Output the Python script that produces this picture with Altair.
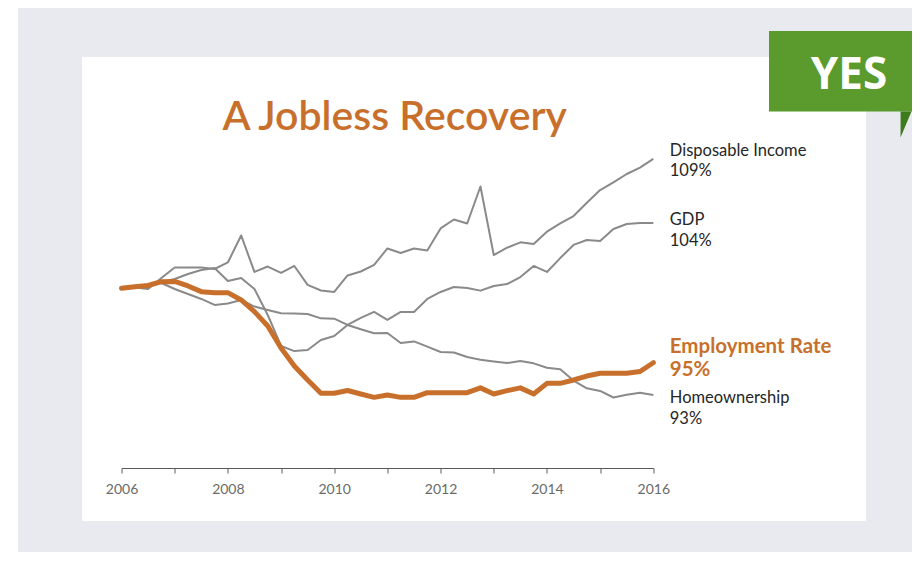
import altair as alt
import pandas as pd

# ---------------- data (index, 2006 Q1 = 100%) ----------------
quarters = [2006 + q / 4 for q in range(41)]

disposable_income = [100.00, 100.03, 99.93, 100.68, 101.40, 101.40, 101.40, 101.30, 101.75, 103.60,
                     101.10, 101.47, 101.03, 101.51, 100.21, 99.83, 99.73, 100.86, 101.13, 101.58,
                     102.71, 102.40, 102.71, 102.57, 104.08, 104.69, 104.42, 106.95, 102.26, 102.76,
                     103.13, 103.01, 103.86, 104.43, 104.93, 105.84, 106.71, 107.24, 107.81, 108.24, 108.84]

gdp = [100.00, 100.07, 100.21, 100.41, 100.62, 100.96, 101.23, 101.37, 100.48, 100.68,
       99.93, 98.15, 96.03, 95.68, 95.75, 96.44, 96.71, 97.47, 97.95, 98.36,
       97.81, 98.36, 98.36, 99.25, 99.73, 100.07, 100.00, 99.82, 100.14, 100.27,
       100.75, 101.51, 101.10, 102.05, 102.95, 103.29, 103.22, 104.04, 104.38, 104.45, 104.45]

employment_rate = [99.98, 100.09, 100.17, 100.43, 100.45, 100.14, 99.75, 99.68, 99.68, 99.18,
                   98.38, 97.40, 95.89, 94.66, 93.70, 92.79, 92.79, 92.98, 92.74, 92.51,
                   92.67, 92.51, 92.51, 92.83, 92.83, 92.83, 92.83, 93.16, 92.74, 92.97,
                   93.16, 92.74, 93.47, 93.47, 93.70, 93.97, 94.16, 94.16, 94.16, 94.28, 94.88]

homeownership = [100.00, 100.07, 100.14, 100.34, 99.93, 99.59, 99.25, 98.84, 98.94, 99.18,
                 98.73, 98.49, 98.27, 98.25, 98.22, 97.92, 97.90, 97.47, 97.17, 96.90,
                 96.92, 96.23, 96.34, 95.98, 95.62, 95.58, 95.27, 95.09, 94.97, 94.86,
                 95.00, 94.84, 94.54, 94.43, 93.66, 93.13, 92.95, 92.50, 92.69, 92.83, 92.67]

series_names = ["Disposable Income", "GDP", "Employment Rate", "Homeownership"]
series_values = [disposable_income, gdp, employment_rate, homeownership]
year_ticks = list(range(2006, 2017))
title_text = "A Jobless Recovery"
badge_text = "YES"

# ---------------- layout ----------------
W, H = 531.8, 338          # plot area
X0, Y0 = 121.5, 130        # page position of plot origin
SVG_W, SVG_H = 904, 544
PAD = {"left": X0 - 8, "top": Y0 - 8,
       "right": SVG_W - (X0 - 8) - W, "bottom": SVG_H - (Y0 - 8) - H}

ORANGE = "#c8702b"
GREY = "#8a8a8a"
TEXT = "#262626"
FONT = "Lato"


def px(x):
    return x - X0


def py(y):
    return y - Y0


rows = []
for name, vals in zip(series_names, series_values):
    for t, v in zip(quarters, vals):
        rows.append({"t": t, "value": v, "series": name})
df = pd.DataFrame(rows)

xs = alt.Scale(domain=[2006, 2016], nice=False, zero=False)
ys = alt.Scale(domain=[87.671, 110.822], nice=False, zero=False)

xaxis = alt.Axis(values=year_ticks, format="d",
                 labelExpr="datum.value % 2 == 0 ? datum.label : ''",
                 labelFlush=False, labelOverlap=False,
                 tickSize=5, tickColor="#5a5a5a", domainColor="#5a5a5a",
                 labelColor="#6a6a6a", labelFont=FONT, labelFontSize=14,
                 labelPadding=9, grid=False, zindex=1, title=None)

one = pd.DataFrame({"a": [0]})

bg = alt.Chart(one).mark_rect(color="#e9eaef").encode(
    x=alt.value(px(18)), x2=alt.value(px(8 + SVG_W)), y=alt.value(py(8)), y2=alt.value(py(8 + SVG_H)))
card = alt.Chart(one).mark_rect(color="white").encode(
    x=alt.value(px(82)), x2=alt.value(px(866)), y=alt.value(py(57)), y2=alt.value(py(521)))
badge = alt.Chart(one).mark_rect(color="#5b9a2c").encode(
    x=alt.value(px(769)), x2=alt.value(px(925)), y=alt.value(py(31)), y2=alt.value(py(111.5)))
fold = alt.Chart(one).mark_point(shape="M -0.42 -1 L 0.42 -1 L -0.42 1 Z", filled=True,
                                 color="#3e7b1d", size=676, opacity=1, strokeWidth=0).encode(
    x=alt.value(px(906)), y=alt.value(py(124.5)))
yes = alt.Chart(one).mark_text(text=badge_text, font="Open Sans", fontWeight="bold", fontSize=44,
                               color="white", align="center", baseline="alphabetic").encode(
    x=alt.value(px(849)), y=alt.value(py(88.5)))
title = alt.Chart(one).mark_text(text=title_text, font=FONT, fontWeight=600, fontSize=41,
                                 color=ORANGE, align="left", baseline="alphabetic").encode(
    x=alt.value(px(222.5)), y=alt.value(py(130)))

grey_lines = alt.Chart(df[df.series != "Employment Rate"]).mark_line(
    color=GREY, strokeWidth=2, strokeJoin="round").encode(
    x=alt.X("t:Q", scale=xs, axis=xaxis),
    y=alt.Y("value:Q", scale=ys, axis=None),
    detail="series:N")

orange_line = alt.Chart(df[df.series == "Employment Rate"]).mark_line(
    color=ORANGE, strokeWidth=5, strokeJoin="round", strokeCap="round").encode(
    x=alt.X("t:Q", scale=xs, axis=xaxis),
    y=alt.Y("value:Q", scale=ys, axis=None))


def end_label(i, dy, color, weight, size, lh):
    name = series_names[i]
    v = series_values[i][-1]
    d = pd.DataFrame({"t": [quarters[-1]], "value": [v],
                      "label": [f"{name}\n{round(v)}%"]})
    return alt.Chart(d).mark_text(align="left", baseline="alphabetic", dx=16.5, dy=dy,
                                  font=FONT, fontSize=size, fontWeight=weight, color=color,
                                  lineBreak="\n", lineHeight=lh).encode(
        x=alt.X("t:Q", scale=xs, axis=xaxis),
        y=alt.Y("value:Q", scale=ys, axis=None),
        text="label:N")


labels = [
    end_label(0, -3, TEXT, "normal", 16.5, 20.5),
    end_label(1, 2, TEXT, "normal", 16.5, 20.5),
    end_label(2, -10, ORANGE, "bold", 20.5, 23.5),
    end_label(3, 8, TEXT, "normal", 16.5, 20.5),
]

chart = alt.layer(bg, card, badge, fold, yes, title, grey_lines, orange_line, *labels).properties(
    width=W, height=H,
    autosize=alt.AutoSizeParams(type="none"),
    padding=PAD,
    background="white",
).configure_view(stroke=None)

chart.save("out.html", embed_options={"renderer": "svg", "actions": False})
